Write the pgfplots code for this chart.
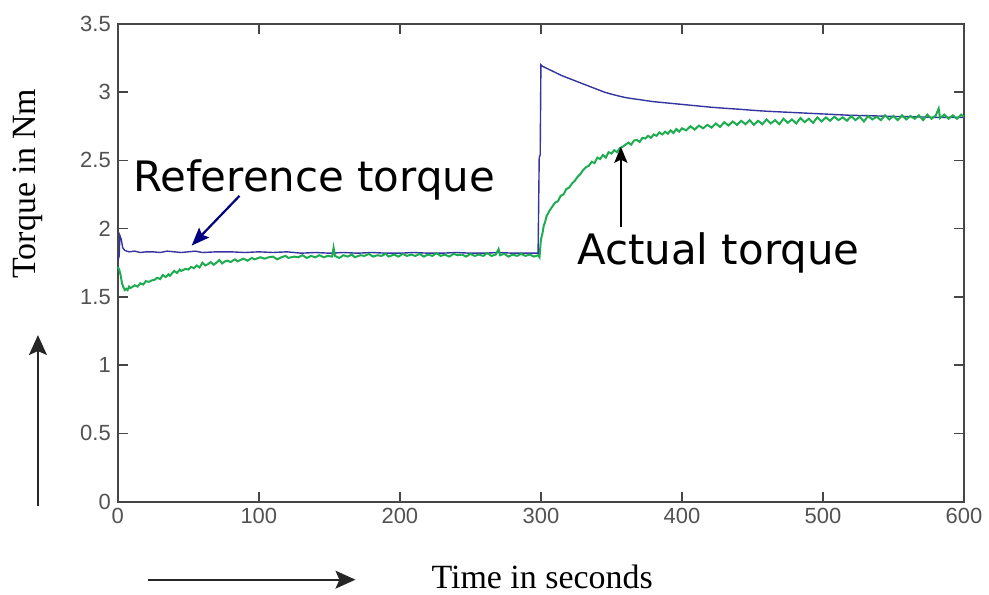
\documentclass[border=0pt]{standalone}
\usepackage{fontspec}
\setmainfont{Liberation Serif}
\newfontfamily\tickfont{Liberation Sans}
\newfontfamily\annfont{DejaVu Sans}
\usepackage{pgfplots}
\pgfplotsset{compat=1.18}
\usetikzlibrary{arrows.meta}
\definecolor{refblue}{RGB}{52,52,160}
\definecolor{actgreen}{RGB}{30,172,80}
\definecolor{axgray}{RGB}{70,70,70}
\definecolor{navyarrow}{RGB}{0,0,128}
\begin{document}
\begin{tikzpicture}
\begin{axis}[
  scale only axis,
  width=424pt, height=239.35pt,
  xmin=0, xmax=600, ymin=0, ymax=3.5,
  xtick={0,100,...,600},
  ytick={0,0.5,...,3.5},
  yticklabels={0,0.5,1,1.5,2,2.5,3,3.5},
  tick align=inside,
  major tick length=5pt,
  axis line style={axgray, line width=1pt},
  every tick/.style={axgray, line width=0.8pt},
  /pgf/number format/assume math mode=true,
  tick label style={font=\tickfont\fontsize{11}{13}\selectfont, text=black!68},
  clip=false,
]
\addplot[refblue, line width=0.7pt] coordinates {
(0,1.76) (1,1.80) (1.5,1.95) (2.5,1.92) (3.5,1.86) (5,1.84) (8,1.83) (12,1.835)
(16,1.825) (20,1.83) (25,1.83) (30,1.825) (35,1.835) (40,1.83) (45,1.825) (50,1.83)
(55,1.835) (60,1.825) (70,1.83) (80,1.83) (90,1.825) (100,1.83) (110,1.825) (120,1.83)
(130,1.82) (140,1.825) (150,1.82) (160,1.825) (170,1.82) (180,1.825) (190,1.82) (200,1.82)
(210,1.825) (220,1.82) (230,1.82) (240,1.825) (250,1.82) (260,1.82) (270,1.825) (280,1.82)
(290,1.82) (298,1.82) (298.8,2.52) (299.5,2.54) (300,3.20) (301,3.19) (302,3.185) (306,3.165)
(310,3.145) (315,3.12) (320,3.10) (325,3.08) (330,3.06) (335,3.04) (340,3.02) (345,3.00)
(350,2.985) (355,2.972) (360,2.96) (365,2.952) (370,2.945) (375,2.937) (380,2.93) (390,2.92)
(400,2.91) (410,2.90) (420,2.89) (430,2.882) (440,2.875) (450,2.867) (460,2.86) (470,2.855)
(480,2.85) (490,2.845) (500,2.84) (510,2.835) (520,2.83) (530,2.828) (540,2.825) (550,2.822)
(560,2.82) (570,2.818) (580,2.815) (590,2.815) (600,2.815)
};
\addplot[actgreen, line width=1pt] coordinates {
(0,1.72) (1,1.70) (2,1.66) (3,1.60) (4,1.57) (5,1.55) (6,1.56) (7,1.55) (8,1.575) (9,1.565)
(10,1.57) (12,1.585) (14,1.575) (16,1.60) (18,1.59) (20,1.615) (22,1.61) (24,1.62)
(26,1.625) (28,1.64) (30,1.63) (32,1.66) (34,1.645) (36,1.665) (37,1.655) (40,1.69)
(42,1.675) (44,1.70) (45,1.69) (48,1.705) (50,1.70) (52,1.72) (54,1.71) (56,1.73)
(58,1.715) (60,1.75) (62,1.73) (64,1.74) (66,1.755) (68,1.735) (70,1.75) (72,1.77)
(74,1.745) (76,1.76) (78,1.765) (80,1.755) (83,1.775) (85,1.76) (89,1.78) (92,1.765)
(95,1.785) (97,1.775) (101,1.79) (104,1.78) (107,1.79) (110,1.795) (113,1.775) (116,1.79)
(119,1.80) (121,1.785) (125,1.795) (128,1.79) (131,1.805) (134,1.785) (137,1.80) (140,1.79)
(143,1.805) (146,1.79) (149,1.80) (152,1.795) (153,1.86) (154,1.80) (157,1.785) (160,1.805)
(163,1.795) (166,1.81) (168,1.79) (172,1.805) (175,1.80) (178,1.815) (181,1.795) (184,1.805)
(187,1.80) (190,1.815) (192,1.795) (196,1.81) (199,1.795) (202,1.815) (205,1.80) (208,1.81)
(211,1.80) (214,1.815) (217,1.795) (220,1.81) (223,1.80) (226,1.82) (229,1.80) (232,1.81)
(235,1.795) (238,1.815) (241,1.805) (244,1.81) (247,1.795) (250,1.815) (253,1.80) (256,1.81)
(259,1.80) (262,1.82) (265,1.80) (268,1.81) (270,1.85) (271,1.805) (274,1.815) (277,1.795)
(280,1.81) (283,1.80) (286,1.815) (289,1.80) (292,1.81) (295,1.795) (298,1.805) (299,1.79)
(300,1.92) (301,1.96) (302,2.02) (303,2.05) (304,2.09) (306,2.13) (308,2.16) (310,2.19)
(312,2.20) (314,2.24) (316,2.25) (318,2.29) (320,2.30) (322,2.33) (324,2.35) (326,2.38)
(328,2.40) (330,2.43) (332,2.45) (334,2.46) (336,2.49) (338,2.48) (340,2.52) (342,2.51)
(344,2.54) (346,2.52) (348,2.56) (350,2.55) (352,2.575) (354,2.56) (356,2.59) (358,2.60)
(360,2.615) (362,2.63) (364,2.615) (366,2.645) (368,2.65) (370,2.635) (372,2.665) (374,2.66)
(376,2.68) (378,2.665) (380,2.69) (382,2.68) (384,2.705) (386,2.69) (388,2.71) (390,2.695)
(392,2.72) (394,2.70) (396,2.73) (398,2.71) (400,2.735) (403,2.72) (406,2.75) (409,2.725)
(412,2.755) (415,2.735) (418,2.76) (421,2.74) (424,2.77) (427,2.745) (430,2.78) (433,2.755)
(436,2.785) (439,2.76) (442,2.79) (445,2.765) (448,2.795) (451,2.76) (454,2.79) (457,2.765)
(460,2.80) (463,2.77) (466,2.795) (469,2.765) (472,2.805) (475,2.775) (478,2.80) (481,2.77)
(484,2.81) (487,2.78) (490,2.805) (493,2.775) (496,2.815) (499,2.785) (502,2.815) (505,2.79)
(508,2.82) (511,2.795) (514,2.815) (517,2.79) (520,2.825) (523,2.795) (526,2.82) (529,2.785)
(532,2.825) (535,2.80) (538,2.82) (541,2.795) (544,2.83) (547,2.80) (550,2.825) (553,2.795)
(556,2.83) (559,2.80) (562,2.825) (565,2.805) (568,2.83) (571,2.795) (574,2.835) (577,2.805)
(580,2.83) (582,2.88) (583,2.81) (586,2.835) (589,2.805) (592,2.83) (595,2.805) (598,2.835)
(600,2.82)
};
% annotations
\node[anchor=base west, inner sep=0pt, font=\annfont\fontsize{21}{24}\selectfont]
  at (axis cs:10.6,2.271) {Reference torque};
\draw[-{Stealth[length=9pt,width=7pt,inset=1.5pt]}, navyarrow, line width=1.1pt]
  (axis cs:86.3,2.24) -- (axis cs:52.4,1.876);
\node[anchor=base west, inner sep=0pt, font=\annfont\fontsize{21}{24}\selectfont]
  at (axis cs:325.5,1.736) {Actual torque};
\draw[-{Stealth[length=8pt,width=6.5pt,inset=1.5pt]}, black, line width=1.1pt] (axis cs:356.7,2.01) -- (axis cs:356.7,2.60);
% axis labels
\node[anchor=base west, inner sep=0pt, font=\fontsize{17}{20}\selectfont]
  at (axis cs:222.2,-0.638) {Time in seconds};
\node[rotate=90, anchor=base, inner sep=0pt, font=\fontsize{17}{20}\selectfont]
  at (axis cs:-58.5,2.33) {Torque in Nm};
\draw[-{Stealth[length=10pt,width=9pt,inset=2pt]}, black!85, line width=0.9pt] (axis cs:-56.6,-0.03) -- (axis cs:-56.6,1.22);
\draw[-{Stealth[length=10pt,width=9pt,inset=2pt]}, black!85, line width=0.9pt] (axis cs:21.2,-0.572) -- (axis cs:168.5,-0.572);
\coordinate (bbl) at (axis cs:-83.5,-0.682);
\coordinate (btr) at (axis cs:616.4,3.675);
\end{axis}
\path[use as bounding box] (bbl) rectangle (btr);
\end{tikzpicture}
\end{document}
